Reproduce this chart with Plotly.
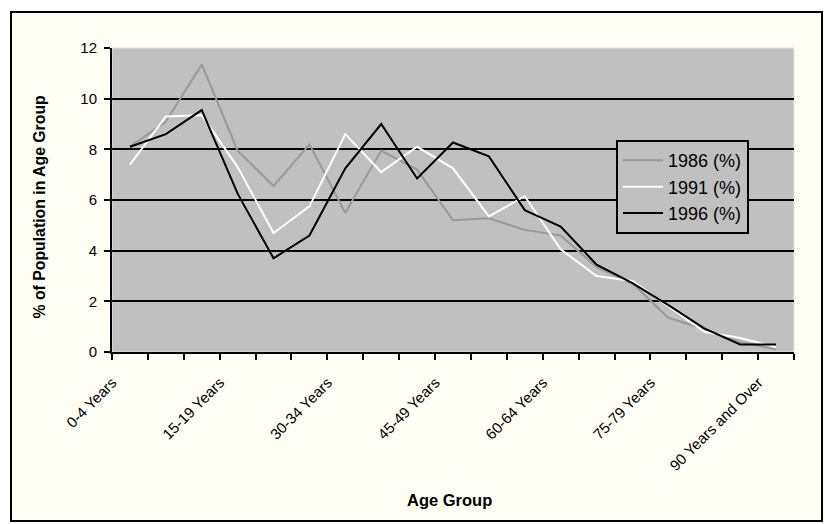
import plotly.graph_objects as go

# Age groups (5-year bands) and share of population in each, by census year
AGE_GROUPS = [
    "0-4 Years", "5-9 Years", "10-14 Years", "15-19 Years", "20-24 Years",
    "25-29 Years", "30-34 Years", "35-39 Years", "40-44 Years", "45-49 Years",
    "50-54 Years", "55-59 Years", "60-64 Years", "65-69 Years", "70-74 Years",
    "75-79 Years", "80-84 Years", "85-89 Years", "90 Years and Over",
]
PCT_1986 = [8.1, 9.1, 11.35, 7.95, 6.55, 8.2, 5.5, 7.95, 7.2, 5.2,
            5.28, 4.82, 4.6, 3.35, 2.7, 1.35, 0.9, 0.4, 0.1]
PCT_1991 = [7.4, 9.3, 9.35, 7.3, 4.7, 5.75, 8.6, 7.1, 8.1, 7.25,
            5.35, 6.15, 4.05, 3.0, 2.8, 1.8, 0.8, 0.55, 0.2]
PCT_1996 = [8.1, 8.6, 9.55, 6.25, 3.7, 4.6, 7.25, 9.0, 6.85, 8.27,
            7.72, 5.6, 4.95, 3.45, 2.72, 1.85, 0.93, 0.3, 0.3]

SERIES = [
    ("1986 (%)", PCT_1986, "#999999"),
    ("1991 (%)", PCT_1991, "#FFFFFF"),
    ("1996 (%)", PCT_1996, "#000000"),
]
Y_TICKS = [0, 2, 4, 6, 8, 10, 12]
LABEL_EVERY = 3

FONT = "Liberation Sans, Arial, sans-serif"
n = len(AGE_GROUPS)
xpos = list(range(n))
label_idx = list(range(0, n, LABEL_EVERY))

fig = go.Figure()
for name, vals, color in SERIES:
    fig.add_trace(go.Scatter(
        x=xpos, y=vals, name=name, mode="lines",
        line=dict(color=color, width=2),
        text=AGE_GROUPS, hovertemplate="%{text}: %{y}%<extra>" + name + "</extra>",
    ))

# empty carrier trace so the category-label axis gets drawn
fig.add_trace(go.Scatter(
    x=[xpos[0]], y=[None], xaxis="x2", yaxis="y", mode="lines",
    showlegend=False, hoverinfo="skip",
))

fig.update_layout(
    width=825, height=524,
    margin=dict(l=112, r=31, t=48, b=172),
    paper_bgcolor="#FFFFFF",
    plot_bgcolor="rgba(0,0,0,0)",
    font=dict(family=FONT, color="#000000", size=15),
    showlegend=True,
    legend=dict(
        x=0.739, y=0.697, xanchor="left", yanchor="top",
        bgcolor="#C0C0C0", bordercolor="#000000", borderwidth=2,
        font=dict(size=18, family=FONT), itemwidth=40,
        tracegroupgap=0,
    ),
    xaxis=dict(
        range=[-0.5, n - 0.5],
        tickmode="array", tickvals=[k - 0.5 for k in range(n + 1)],
        showticklabels=False,
        ticks="outside", ticklen=6, tickwidth=2, tickcolor="#000000",
        showline=True, linecolor="#000000", linewidth=2,
        showgrid=False, zeroline=False, fixedrange=True,
    ),
    xaxis2=dict(
        overlaying="x", anchor="y", side="bottom",
        range=[-0.5, n - 0.5],
        tickmode="array",
        tickvals=[i - 0.49 for i in label_idx],
        ticktext=[AGE_GROUPS[i] for i in label_idx],
        tickangle=-45, tickfont=dict(size=15, family=FONT),
        ticks="outside", ticklen=15, tickcolor="rgba(0,0,0,0)",
        showline=False, showgrid=False, zeroline=False, fixedrange=True,
    ),
    yaxis=dict(
        range=[0, 12], tickmode="array", tickvals=Y_TICKS,
        ticks="outside", ticklen=6, tickwidth=2, tickcolor="#000000",
        ticklabelstandoff=4,
        showline=True, linecolor="#000000", linewidth=2,
        showgrid=True, gridcolor="#000000", gridwidth=1.5,
        zeroline=False, fixedrange=True,
        tickfont=dict(size=15, family=FONT),
    ),
    shapes=[
        # chart area: ivory panel with a black frame
        dict(type="rect", xref="paper", yref="paper",
             x0=-0.1481, x1=1.0411, y0=-0.5559, y1=1.1184,
             fillcolor="#FFFEF5", line=dict(color="#000000", width=2),
             layer="below"),
        # plot area: grey panel
        dict(type="rect", xref="paper", yref="paper",
             x0=0, x1=1, y0=0, y1=1,
             fillcolor="#C0C0C0", line=dict(color="#E6E6E6", width=1),
             layer="below"),
    ],
    annotations=[
        dict(text="<b>% of Population in Age Group</b>", xref="paper", yref="paper",
             x=-0.1056, y=0.4786, xanchor="center", yanchor="middle",
             textangle=-90, showarrow=False, font=dict(size=15.8, family=FONT)),
        dict(text="<b>Age Group</b>", xref="paper", yref="paper",
             x=0.4956, y=-0.4868, xanchor="center", yanchor="middle",
             showarrow=False, font=dict(size=16.5, family=FONT)),
    ],
)

fig.write_html("out.html")
